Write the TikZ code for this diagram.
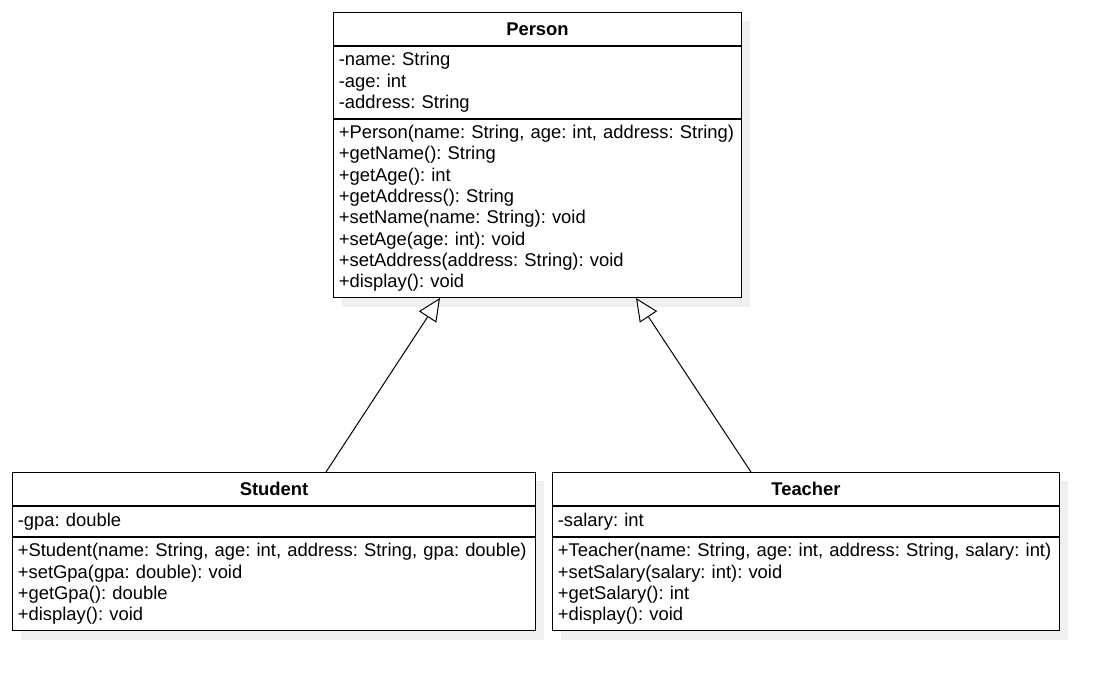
\documentclass[tikz,border=0pt]{standalone}
\usepackage{fontspec}
\setmainfont{Liberation Sans}
\usetikzlibrary{arrows.meta}
\definecolor{shadowgray}{HTML}{F0F0F0}
\frenchspacing
\tikzset{
	classname/.style={minimum height=24.75pt,font=\fontsize{13.8}{16}\selectfont\bfseries},
	classbody/.style={align=left},
	inherit/.style={line width=0.75pt,-{Triangle[length=17pt,width=15.5pt,fill=white]}}
}
\begin{document}
\begin{tikzpicture}[x=0.75pt,y=-0.75pt]
	\useasboundingbox (0,0) rectangle (1108,681);
	% shadows
	\fill[shadowgray] (342,21) rectangle (750,307);
	\fill[shadowgray] (21,481) rectangle (544,640);
	\fill[shadowgray] (561,481) rectangle (1068,640);
	\begin{scope}[every node/.style={draw=black,line width=0.75pt,fill=white,anchor=north west,inner xsep=4pt,inner ysep=0pt,font=\fontsize{13.8}{16}\selectfont}]
		% Person
		\node[classname,minimum width=306pt] (person) at (333,12) {Person};
		\node[classbody,text width=298pt,minimum height=54pt] (pattr) at (person.south west) {-name: String\\-age: int\\-address: String};
		\node[classbody,text width=298pt,minimum height=133.5pt] (pmeth) at (pattr.south west) {+Person(name: String, age: int, address: String)\\+getName(): String\\+getAge(): int\\+getAddress(): String\\+setName(name: String): void\\+setAge(age: int): void\\+setAddress(address: String): void\\+display(): void};
		% Student
		\node[classname,minimum width=392.25pt] (student) at (12,472) {Student};
		\node[classbody,text width=384.25pt,minimum height=22.5pt] (sattr) at (student.south west) {-gpa: double};
		\node[classbody,text width=384.25pt,minimum height=69.75pt] (smeth) at (sattr.south west) {+Student(name: String, age: int, address: String, gpa: double)\\+setGpa(gpa: double): void\\+getGpa(): double\\+display(): void};
		% Teacher
		\node[classname,minimum width=380.25pt] (teacher) at (552,472) {Teacher};
		\node[classbody,text width=372.25pt,minimum height=22.5pt] (tattr) at (teacher.south west) {-salary: int};
		\node[classbody,text width=372.25pt,minimum height=69.75pt] (tmeth) at (tattr.south west) {+Teacher(name: String, age: int, address: String, salary: int)\\+setSalary(salary: int): void\\+getSalary(): int\\+display(): void};
	\end{scope}
	\path [inherit]([xshift=235.5pt]student.north west) edge node {} ([xshift=80.25pt]pmeth.south west);
	\path [inherit]([xshift=149.25pt]teacher.north west) edge node {} ([xshift=227.25pt]pmeth.south west);
\end{tikzpicture}
\end{document}
